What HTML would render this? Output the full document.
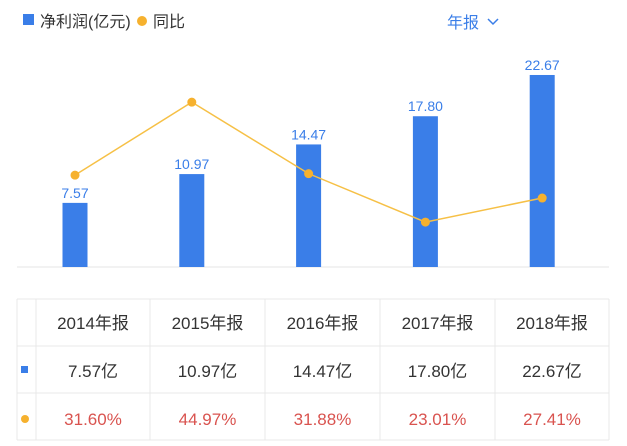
<!DOCTYPE html>
<html><head><meta charset="utf-8"><style>
body{margin:0;width:627px;height:446px;background:#fff;overflow:hidden;font-family:"Liberation Sans","Noto Sans CJK SC",sans-serif}
svg{display:block}
</style></head><body>
<svg id="c" width="627" height="446">
<rect x="23" y="14" width="11" height="11" fill="#3a7ee8"/>
<text x="40" y="27" font-size="16" fill="#333">净利润(亿元)</text>
<circle cx="142" cy="21" r="5" fill="#f6b12e"/>
<text x="153" y="27" font-size="16" fill="#333">同比</text>
<text x="447" y="28" font-size="16" fill="#3a7ee8">年报</text>
<polyline points="488,19 493,24 498,19" fill="none" stroke="#3a7ee8" stroke-width="1.5"/>
<line x1="17" y1="267" x2="609" y2="267" stroke="#e6e6e6"/>
<g id="bars"></g><g id="line"></g><g id="table"></g>
</svg>
<script>
const categories=["2014年报","2015年报","2016年报","2017年报","2018年报"];
const profit=[7.57,10.97,14.47,17.80,22.67];
const yoy=[31.60,44.97,31.88,23.01,27.41];
const NS="http://www.w3.org/2000/svg";
const xc=i=>75+i*116.8;
const yBar=v=>267-v*8.47;
const yLine=v=>347.7-v*5.46;
function mk(tag,attrs,parent,txt){const e=document.createElementNS(NS,tag);for(const k in attrs)e.setAttribute(k,attrs[k]);if(txt!=null)e.textContent=txt;parent.appendChild(e);return e;}
const bars=document.getElementById('bars'),line=document.getElementById('line'),tb=document.getElementById('table');
profit.forEach((v,i)=>{
 const r=mk('rect',{x:xc(i)-12.5,y:yBar(v),width:25,height:267-yBar(v),fill:'#3a7ee8'},bars);
 
 
 const t=mk('text',{x:xc(i),y:yBar(v)-5,'font-size':14,fill:'#3a7ee8','text-anchor':'middle'},bars,v.toFixed(2));
 
 
});
const pl=mk('polyline',{points:yoy.map((v,i)=>xc(i)+','+yLine(v)).join(' '),fill:'none',stroke:'#f6c046','stroke-width':1.5},line);


yoy.forEach((v,i)=>{
 const c=mk('circle',{cx:xc(i),cy:yLine(v),r:4.5,fill:'#f6b12e'},line);
 
 
});
const colX=[17,36,150,265,380,495,609],rowY=[299,346,393,440];
colX.forEach(x=>{const l=mk('line',{x1:x,y1:299,x2:x,y2:440,stroke:'#e8e8e8'},tb);});
rowY.forEach(y=>{const l=mk('line',{x1:17,y1:y,x2:609,y2:y,stroke:'#e8e8e8'},tb);});
const s=mk('rect',{x:21,y:366,width:7,height:7,fill:'#3a7ee8'},tb);
const d=mk('circle',{cx:25,cy:419,r:4,fill:'#f6b12e'},tb);
categories.forEach((c,i)=>{
 const cx=(colX[i+1]+colX[i+2])/2;
 const a=mk('text',{x:cx,y:329,'font-size':17,fill:'#333','text-anchor':'middle'},tb,c);
 
 
 const b=mk('text',{x:cx,y:377,'font-size':17,fill:'#333','text-anchor':'middle'},tb,profit[i].toFixed(2)+'亿');
 
 
 const e=mk('text',{x:cx,y:425,'font-size':17,fill:'#d9534f','text-anchor':'middle'},tb,yoy[i].toFixed(2)+'%');
 
 
});
</script>
</body></html>
